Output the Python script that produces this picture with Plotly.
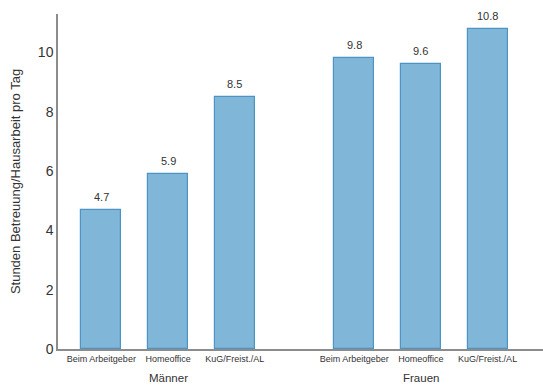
import plotly.graph_objects as go

# Data
groups = ["Männer", "Frauen"]
subcategories = ["Beim Arbeitgeber", "Homeoffice", "KuG/Freist./AL"]
values_maenner = [4.7, 5.9, 8.5]
values_frauen = [9.8, 9.6, 10.8]
y_ticks = [0, 2, 4, 6, 8, 10]

GROUP_GAP = 0.79  # extra space between the two groups (in bar slots)

x_pos, y_vals, tick_text = [], [], []
group_centers = []
for g, vals in enumerate([values_maenner, values_frauen]):
    base = g * (len(subcategories) + GROUP_GAP)
    for i, v in enumerate(vals):
        x_pos.append(base + i)
        y_vals.append(v)
        tick_text.append(subcategories[i])
    group_centers.append(base + (len(subcategories) - 1) / 2)

fig = go.Figure(
    go.Bar(
        x=x_pos,
        y=y_vals,
        width=0.6,
        marker=dict(color="#80b6d7", line=dict(color="#4d93c3", width=1.2)),
        hoverinfo="skip",
    )
)

# value labels above each bar
for xv, yv in zip(x_pos, y_vals):
    fig.add_annotation(
        x=xv, y=yv, xref="x", yref="y",
        text=f"{yv:.1f}", showarrow=False,
        yanchor="bottom", yshift=5,
        font=dict(size=11, color="#333333"),
    )

# group labels below the category ticks
for name, xc in zip(groups, group_centers):
    fig.add_annotation(
        x=xc, y=0, xref="x", yref="paper",
        text=name, showarrow=False,
        yanchor="top", yshift=-21,
        font=dict(size=11.5, color="#333333"),
    )

fig.update_layout(
    width=543, height=385,
    margin=dict(l=58, r=0, t=14, b=36),
    paper_bgcolor="white", plot_bgcolor="white",
    font=dict(family="Liberation Sans, Arial, sans-serif", color="#333333"),
    showlegend=False,
    bargap=0,
)
fig.update_xaxes(
    range=[-0.65, 6.62],
    tickvals=x_pos, ticktext=tick_text,
    tickfont=dict(size=9, color="#333333"),
    showline=True, linecolor="#8c8c8c", linewidth=1.5,
    showgrid=False, zeroline=False, ticks="",
)
fig.update_yaxes(
    range=[0, 11.3],
    tickvals=y_ticks,
    tickfont=dict(size=14, color="#333333"),
    title=dict(text="Stunden Betreuung/Hausarbeit pro Tag",
               font=dict(size=13, color="#333333"), standoff=14),
    showline=True, linecolor="#8c8c8c", linewidth=1.5,
    showgrid=False, zeroline=False, ticks="",
)

fig.write_html("out.html")
